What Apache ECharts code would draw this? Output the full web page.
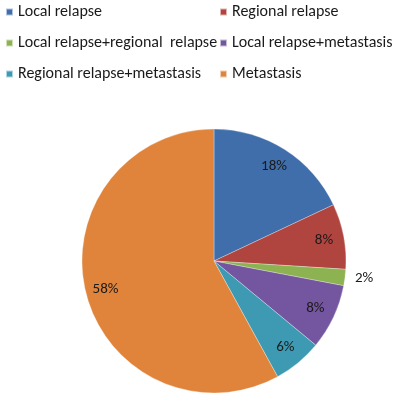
<!DOCTYPE html>
<html>
<head>
<meta charset="utf-8">
<script src="https://cdn.jsdelivr.net/npm/echarts@6/dist/echarts.min.js"></script>
<style>
html,body{margin:0;padding:0;background:#fff;}
#chart{width:393px;height:403px;}
</style>
</head>
<body>
<div id="chart"></div>
<script>
const categories = [
  'Local relapse',
  'Regional relapse',
  'Local relapse+regional  relapse',
  'Local relapse+metastasis',
  'Regional relapse+metastasis',
  'Metastasis'
];
const values = [18, 8, 2, 8, 6, 58];
const colors = ['#3F6EAA', '#B0443F', '#8DB251', '#74559F', '#3E9AB3', '#E0843B'];
const outsideLabels = ['Local relapse+regional  relapse'];

const FONT = 'Carlito, Lato, "Open Sans", sans-serif';

const chart = echarts.init(document.getElementById('chart'), null, {renderer: 'canvas'});

const mainData = categories.map((c, i) => ({
  name: c, value: values[i], itemStyle: {color: colors[i]}
}));
const labelData = categories.map((c, i) => ({
  name: c, value: values[i],
  label: outsideLabels.includes(c) ? {position: 'outside'} : {position: 'inside'}
}));

const legendCommon = {
  orient: 'vertical',
  top: 4,
  padding: 0,
  icon: 'rect',
  itemWidth: 7,
  itemHeight: 7,
  itemGap: 15,
  selectedMode: false,
  textStyle: {fontFamily: FONT, fontSize: 16, color: '#1a1a1a', lineHeight: 16}
};

chart.setOption({
  animation: false,
  color: colors,
  legend: [
    Object.assign({}, legendCommon, {left: 5, data: [categories[0], categories[2], categories[4]]}),
    Object.assign({}, legendCommon, {left: 219, data: [categories[1], categories[3], categories[5]]})
  ],
  series: [
    {
      type: 'pie',
      center: [214, 261],
      radius: [0, 132],
      startAngle: 90,
      clockwise: true,
      label: {show: false},
      labelLine: {show: false},
      itemStyle: {borderColor: 'rgba(255,255,255,0.6)', borderWidth: 0.5},
      silent: true,
      data: mainData
    },
    {
      type: 'pie',
      center: [214, 261],
      radius: [86, 132],
      startAngle: 90,
      clockwise: true,
      silent: true,
      avoidLabelOverlap: false,
      itemStyle: {color: 'rgba(0,0,0,0)'},
      label: {
        show: true,
        formatter: '{c}%',
        fontFamily: FONT,
        fontSize: 15,
        color: '#1a1a1a'
      },
      labelLine: {show: false, length: 3, length2: 2},
      data: labelData
    }
  ]
});
</script>
</body>
</html>
